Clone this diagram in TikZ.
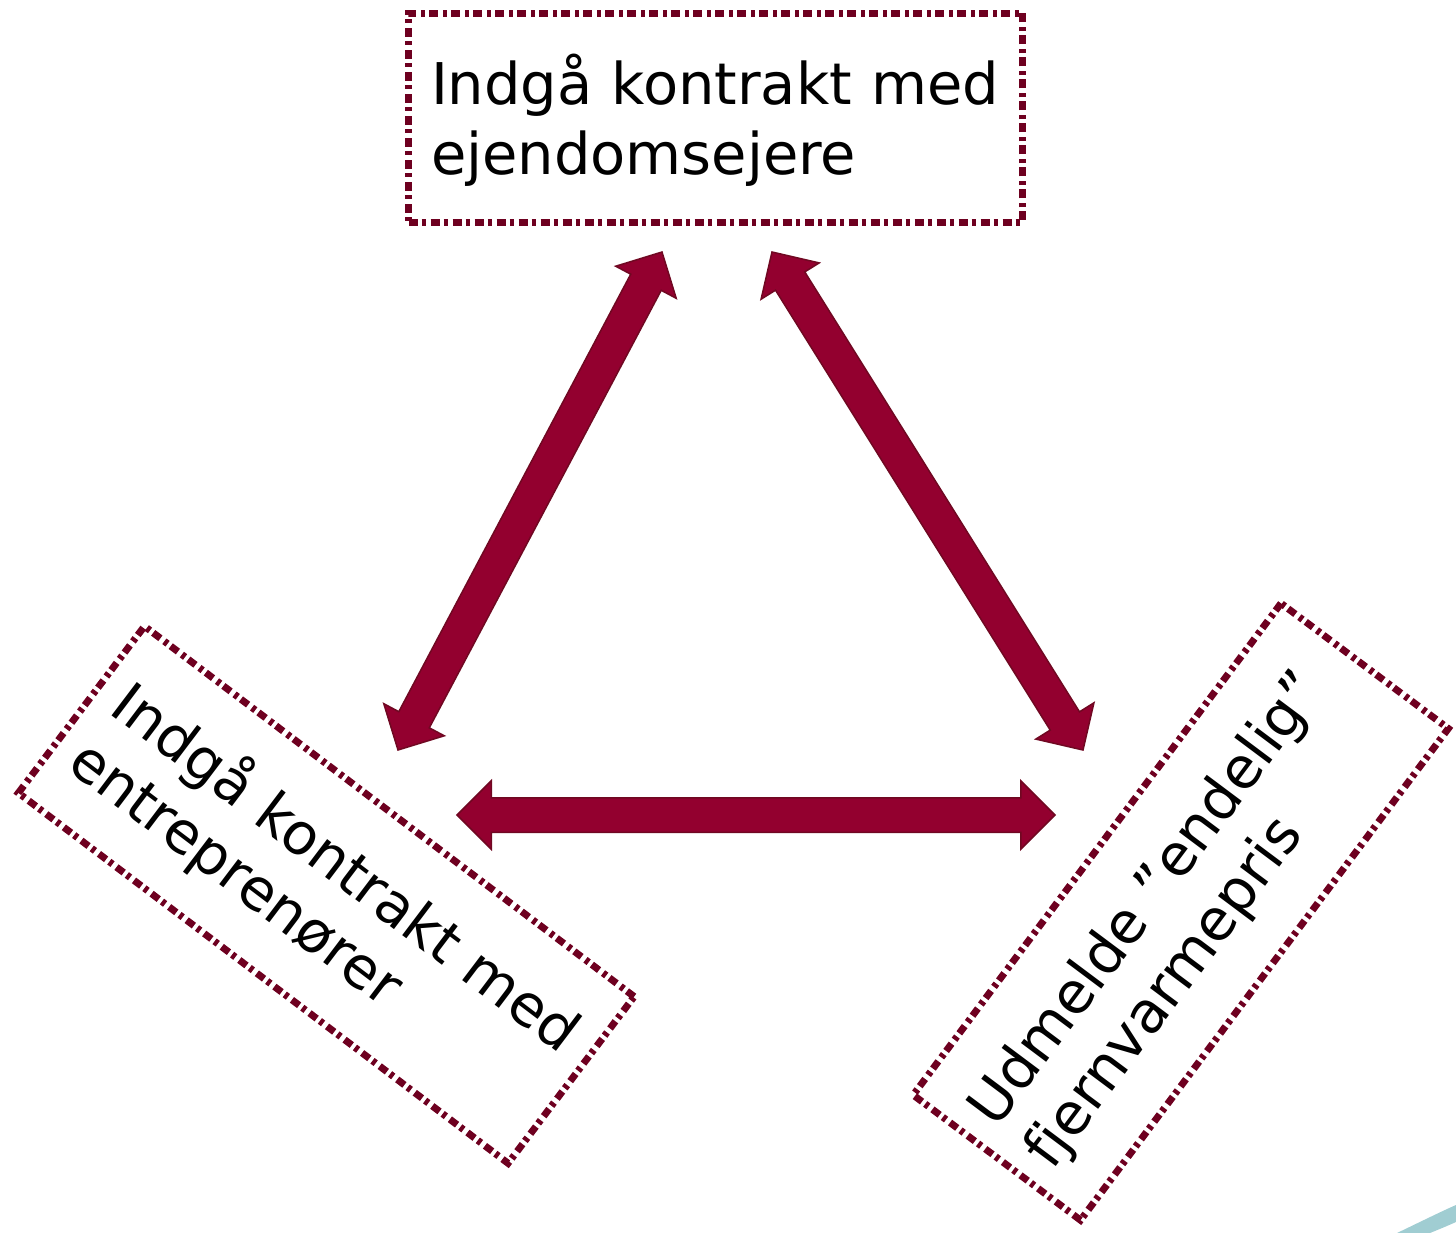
\documentclass[tikz,border=0pt]{standalone}
\usepackage{fontspec}
\setmainfont{DejaVu Sans}
\usetikzlibrary{shapes.arrows,calc}
\definecolor{boxred}{RGB}{110,0,32}
\definecolor{arrowred}{RGB}{147,0,47}
\definecolor{arrowdark}{RGB}{112,8,34}
\definecolor{tealband}{RGB}{160,205,210}
\tikzset{
  dashbox/.style={draw=boxred, line width=7pt, dash pattern=on 9pt off 4pt on 4pt off 5pt,
    minimum width=614pt, minimum height=209pt, inner sep=0pt},
  boxtext/.style={text width=569pt, align=left, inner sep=0pt, anchor=center,
    font=\fontsize{57.5}{70}\selectfont},
  fatarr/.style={double arrow, fill=arrowred, draw=arrowdark, line width=1.5pt,
    inner xsep=0pt, inner ysep=16.5pt, double arrow head extend=17pt,
    double arrow tip angle=90}
}
\newcommand\fatarrow[3]{%
  \path let \p1=($(#3)-(#2)$), \n1={atan2(\y1,\x1)}, \n2={veclen(\x1,\y1)} in
    node[fatarr, minimum height=\n2, rotate=\n1] (#1) at ($(#2)!0.5!(#3)$) {};}
\begin{document}
\begin{tikzpicture}[x=1pt,y=-1pt]
\useasboundingbox (0,0) rectangle (1456,1233);
% boxes
\begin{scope}[shift={(715.5,118)}, transform shape]
  \node[dashbox] (top) at (0,0) {};
  \node[boxtext] (toptxt) at (0,2) {Indgå kontrakt med\\ejendomsejere};
\end{scope}
\begin{scope}[shift={(326.25,894.75)}, rotate=-37.1, transform shape]
  \node[dashbox] (left) at (0,0) {};
  \node[boxtext] (lefttxt) at (0,2) {Indgå kontrakt med\\entreprenører};
\end{scope}
\begin{scope}[shift={(1180.75,911.75)}, rotate=53.2, transform shape]
  \node[dashbox] (right) at (0,0) {};
  \node[boxtext] (righttxt) at (0,2) {Udmelde ”endelig”\\fjernvarmepris};
\end{scope}
% arrow end points
\coordinate (a1s) at (398,750);
\coordinate (a1e) at (662,252);
\coordinate (a2s) at (772,252);
\coordinate (a2e) at (1083,750);
\coordinate (a3s) at (457,815);
\coordinate (a3e) at (1055,815);
\fatarrow{arrL}{a1s}{a1e}
\fatarrow{arrR}{a2s}{a2e}
\fatarrow{arrB}{a3s}{a3e}
% teal band in the corner
\fill[tealband] (1397,1233) .. controls (1420,1222) and (1440,1212) .. (1456,1205)
  -- (1456,1222) .. controls (1447,1226) .. (1430,1233) -- cycle;
\end{tikzpicture}
\end{document}
